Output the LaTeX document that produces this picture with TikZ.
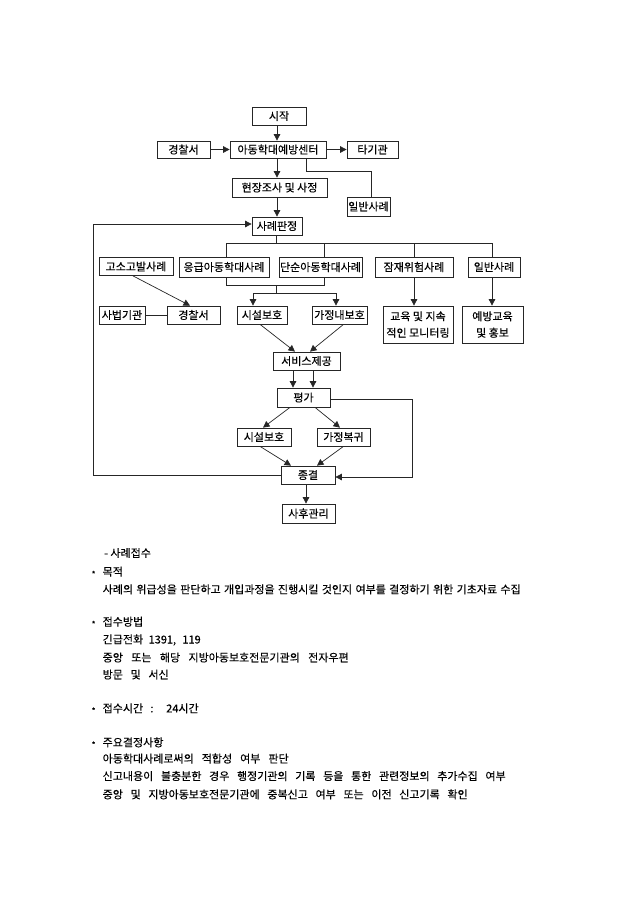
\documentclass[tikz,border=0pt]{standalone}
\usepackage{fontspec}
\setmainfont{Noto Sans CJK KR}[FakeBold=0.25]
\usetikzlibrary{arrows.meta}
\begin{document}
\begin{tikzpicture}[x=1pt,y=-1pt,
  box/.style={draw=black!85,line width=0.75pt,inner sep=0pt,font=\fontsize{11}{16.5}\selectfont,align=center},
  ln/.style={draw=black!85,line width=0.7pt},
  arr/.style={ln,-{Triangle[length=6.5pt,width=6.5pt]}},
  txt/.style={anchor=west,inner sep=0pt,font=\fontsize{11}{12}\selectfont},
  bul/.style={anchor=west,inner sep=0pt,font=\fontsize{8}{10}\selectfont}]
\useasboundingbox[fill=white] (0,0) rectangle (640,905);
% boxes
\node[box,minimum width=54pt,minimum height=18pt] (start) at (279,116) {시작};
\node[box,minimum width=53pt,minimum height=17pt] (police1) at (183.5,149.5) {경찰서};
\node[box,minimum width=96pt,minimum height=17pt] (center) at (278,149.5) {아동학대예방센터};
\node[box,minimum width=51pt,minimum height=17pt] (other) at (372.5,149.5) {타기관};
\node[box,minimum width=95pt,minimum height=19pt] (survey) at (279.5,187.5) {현장조사 및 사정};
\node[box,minimum width=43pt,minimum height=19pt] (gen1) at (368.5,206.5) {일반사례};
\node[box,minimum width=50pt,minimum height=18pt] (judge) at (277,226) {사례판정};
\node[box,minimum width=74pt,minimum height=18pt] (accuse) at (136,266.5) {고소고발사례};
\node[box,minimum width=90pt,minimum height=20pt] (emerg) at (224,267) {응급아동학대사례};
\node[box,minimum width=83pt,minimum height=20pt] (simple) at (320.5,267) {단순아동학대사례};
\node[box,minimum width=78pt,minimum height=20pt] (latent) at (414,267) {잠재위험사례};
\node[box,minimum width=52pt,minimum height=20pt] (gen2) at (494,267) {일반사례};
\node[box,minimum width=46pt,minimum height=18pt] (court) at (122,315) {사법기관};
\node[box,minimum width=53pt,minimum height=18pt] (police2) at (193.5,315) {경찰서};
\node[box,minimum width=50pt,minimum height=18pt] (fac1) at (262,315) {시설보호};
\node[box,minimum width=55pt,minimum height=18pt] (home1) at (339.5,315) {가정내보호};
\node[box,minimum width=70pt,minimum height=37pt] (edu) at (418,324.5) {교육 및 지속\\적인 모니터링};
\node[box,minimum width=61pt,minimum height=37pt] (prev) at (492.5,324.5) {예방교육\\및 홍보};
\node[box,minimum width=67pt,minimum height=18pt] (service) at (306.5,361) {서비스제공};
\node[box,minimum width=53pt,minimum height=19pt] (eval) at (303.5,397.5) {평가};
\node[box,minimum width=54pt,minimum height=18pt] (fac2) at (264,437) {시설보호};
\node[box,minimum width=53pt,minimum height=18pt] (ret) at (343.5,437) {가정복귀};
\node[box,minimum width=54pt,minimum height=18pt] (end) at (308,475) {종결};
\node[box,minimum width=53pt,minimum height=19pt] (after) at (308.5,513.5) {사후관리};
% helper coordinates
\coordinate (sp) at (277,0);
\coordinate (k1) at (306,171);
\coordinate (b0) at (276,243);
\coordinate (bL) at (226,243);
\coordinate (bR) at (492,243);
\coordinate (b2) at (324,243);
\coordinate (b3) at (414,243);
\coordinate (m1) at (226,285);
\coordinate (m2) at (324,285);
\coordinate (m3) at (276,285);
\coordinate (m4) at (276,293);
\coordinate (s1) at (253,293);
\coordinate (s2) at (336,293);
\coordinate (v1) at (293,0);
\coordinate (v2) at (313,0);
\coordinate (r) at (412,0);
\coordinate (l) at (93,0);
% connectors
\draw[arr] (start.south -| sp) -- (center.north -| sp);
\draw[arr] (police1) -- (center);
\draw[arr] (center) -- (other);
\draw[arr] (center.south -| sp) -- (survey.north -| sp);
\draw[ln] (center.south -| k1) -- (k1) -| ([xshift=3pt]gen1.north);
\draw[arr] (survey.south -| sp) -- (judge.north -| sp);
\draw[ln] (judge.south -| b0) -- (b0);
\draw[ln] (bL) -- (bR);
\draw[ln] (bL) -- (emerg.north -| bL);
\draw[ln] (b2) -- (simple.north -| b2);
\draw[ln] (b3) -- (latent.north -| b3);
\draw[ln] (bR) -- (gen2.north -| bR);
\draw[ln] (emerg.south -| m1) -- (m1) -- (m2) -- (simple.south -| m2);
\draw[ln] (m3) -- (m4);
\draw[ln] (s1) -- (s2);
\draw[arr] (s1) -- (fac1.north -| s1);
\draw[arr] (s2) -- (home1.north -| s2);
\draw[arr] ([xshift=-3pt]accuse.south) -- ([xshift=-3.5pt]police2.north);
\draw[ln] (court) -- (police2);
\draw[arr] (latent.south) -- (latent.south |- edu.north);
\draw[arr] (gen2.south -| bR) -- (prev.north -| bR);
\draw[arr] ([xshift=-2pt]fac1.south) -- ([xshift=-11.5pt]service.north);
\draw[arr] ([xshift=4pt]home1.south) -- ([xshift=3.5pt]service.north);
\draw[arr] (service.south -| v1) -- (eval.north -| v1);
\draw[arr] (service.south -| v2) -- (eval.north -| v2);
\draw[arr] ([xshift=-13.5pt]eval.south) -- ([xshift=-1pt]fac2.north);
\draw[arr] ([xshift=11.5pt]eval.south) -- ([xshift=-3.5pt]ret.north);
\draw[arr] ([xshift=-4pt]fac2.south) -- ([xshift=-17pt]end.north);
\draw[arr] (ret.south) -- ([xshift=9pt]end.north);
\draw[arr] ([yshift=-1.5pt]eval.east) -- ([yshift=-1.5pt]eval.east -| r) -- ([yshift=-2pt]end.east -| r) -- ([yshift=-2pt]end.east);
\draw[arr] (end.west) -- (end.west -| l) -- ([yshift=2pt]judge.west -| l) -- ([yshift=2pt]judge.west);
\draw[arr] (end.south -| k1) -- (after.north -| k1);
% text section
\node[txt] (h0) at (104,553) {- 사례접수};
\node[bul] (st1) at (91.5,574) {*};
\node[txt] (h1) at (102.5,571.7) {목적};
\node[txt] (p1) at (102.5,589.3) {\makebox[418pt][s]{사례의 위급성을 판단하고 개입과정을 진행시킬 것인지 여부를 결정하기 위한 기초자료 수집}};
\node[bul] (st2) at (91.5,624) {*};
\node[txt] (h2) at (102.5,621.7) {접수방법};
\node[txt] (p2) at (102.5,640) {\makebox[98pt][s]{긴급전화 1391, 119}};
\node[txt] (p3) at (102.5,657.5) {\makebox[246pt][s]{중앙 또는 해당 지방아동보호전문기관의 전자우편}};
\node[txt] (p4) at (102.5,674.5) {\makebox[66pt][s]{방문 및 서신}};
\node[bul] (st3) at (91.5,710.5) {*};
\node[txt] (h3) at (102.5,708.3) {\makebox[96pt][s]{접수시간 : 24시간}};
\node[bul] (st4) at (91.5,744.5) {*};
\node[txt] (h4) at (102.5,742.3) {주요결정사항};
\node[txt] (p5) at (102.5,758.5) {\makebox[186pt][s]{아동학대사례로써의 적합성 여부 판단}};
\node[txt] (p6) at (102.5,776) {\makebox[403pt][s]{신고내용이 불충분한 경우 행정기관의 기록 등을 통한 관련정보의 추가수집 여부}};
\node[txt] (p7) at (102.5,794.3) {\makebox[365pt][s]{중앙 및 지방아동보호전문기관에 중복신고 여부 또는 이전 신고기록 확인}};
\end{tikzpicture}
\end{document}
